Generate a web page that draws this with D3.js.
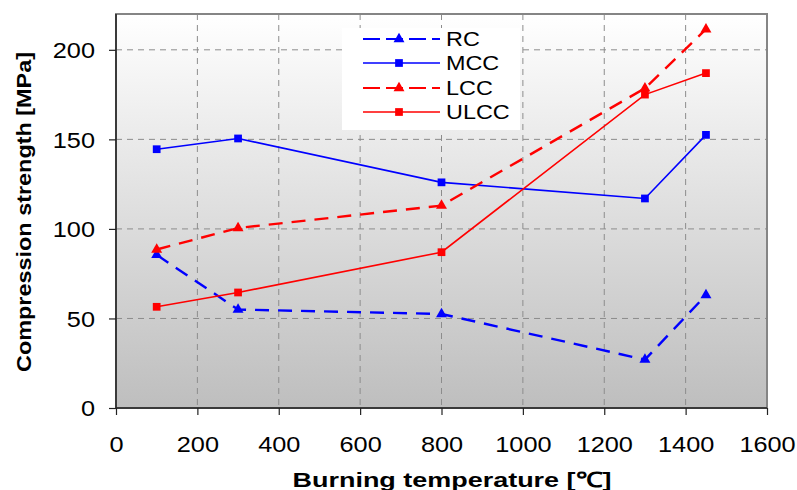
<!DOCTYPE html>
<html><head><meta charset="utf-8">
<script src="https://cdn.jsdelivr.net/npm/d3@7"></script>
<style>body{margin:0;background:#fff;}svg{display:block;font-family:"Liberation Sans",Arial,sans-serif;}</style>
</head><body>
<svg id="c" width="797" height="490"></svg>
<script>
const temps = [100, 300, 800, 1300, 1450];
const rc   = [85.5, 55, 52.5, 27, 63];
const mcc  = [144.5, 150.5, 126, 117, 152.5];
const lcc  = [88.5, 100.5, 113, 178.5, 211.5];
const ulcc = [56.5, 64.5, 87, 175, 187];
const xTicks = [0,200,400,600,800,1000,1200,1400,1600];
const yTicks = [0,50,100,150,200];
const seriesNames = ["RC","MCC","LCC","ULCC"];
const seriesColors = ["#0000ff","#0000ff","#ff0000","#ff0000"];
const seriesDashed = [true,false,true,false];
const seriesMarkers = ["triangle","square","triangle","square"];
const seriesValues = [rc, mcc, lcc, ulcc];

const svg = d3.select("#c");
const L=116, R=767, T=14, B=408;
const x = d3.scaleLinear().domain([0,1600]).range([L,R]);
const y = d3.scaleLinear().domain([0,220]).range([B,T]);

const defs = svg.append("defs");
const g = defs.append("linearGradient").attr("id","bg").attr("x1",0).attr("y1",0).attr("x2",0).attr("y2",1);
g.append("stop").attr("offset","0%").attr("stop-color","#ffffff");
g.append("stop").attr("offset","100%").attr("stop-color","#bebebe");
svg.append("rect").attr("x",L).attr("y",T).attr("width",R-L).attr("height",B-T).attr("fill","url(#bg)");

// grid
svg.append("g").selectAll("line").data(xTicks.slice(1,-1)).join("line")
  .attr("x1",d=>x(d)).attr("x2",d=>x(d)).attr("y1",T).attr("y2",B)
  .attr("stroke","#8c8c8c").attr("stroke-width",1).attr("stroke-dasharray","6,5");
svg.append("g").selectAll("line").data(yTicks.slice(1)).join("line")
  .attr("y1",d=>y(d)).attr("y2",d=>y(d)).attr("x1",L).attr("x2",R)
  .attr("stroke","#8c8c8c").attr("stroke-width",1).attr("stroke-dasharray","6,5");

// frame
svg.append("rect").attr("x",L).attr("y",T).attr("width",R-L).attr("height",B-T)
  .attr("fill","none").attr("stroke","#858585").attr("stroke-width",2);

// axes
const xAxis = d3.axisBottom(x).tickValues(xTicks).tickSize(7).tickFormat(d3.format("d"));
const gx = svg.append("g").attr("transform",`translate(0,${B})`).call(xAxis);
const yAxis = d3.axisLeft(y).tickValues(yTicks).tickSize(7).tickFormat(d3.format("d"));
const gy = svg.append("g").attr("transform",`translate(${L},0)`).call(yAxis);
[gx,gy].forEach(a=>{
  a.select(".domain").attr("stroke","#222").attr("stroke-width",1.5);
  a.selectAll(".tick line").attr("stroke","#222").attr("stroke-width",1.2);
  a.selectAll(".tick text").attr("font-size",22).attr("fill","#000")
    .attr("font-family","'Liberation Sans',Arial,sans-serif");
});
gx.selectAll(".tick text").attr("y",0).attr("dy",0).attr("transform","translate(0,44) scale(1.15,1)");
gy.selectAll(".tick text").attr("x",0).attr("dy","0.36em").attr("transform","translate(-21,0) scale(1.15,1)");
gx.select(".domain").attr("d",`M${L},0H${R}`);
gy.select(".domain").attr("d",`M0,${B}V${T}`);

// titles
svg.append("text").attr("x",452).attr("y",487).attr("text-anchor","middle")
  .attr("font-size",21).attr("font-weight","bold")
  .attr("textLength",319).attr("lengthAdjust","spacingAndGlyphs")
  .text("Burning temperature [℃]");
svg.append("text").attr("transform","translate(31,212) rotate(-90)").attr("text-anchor","middle")
  .attr("font-size",21).attr("font-weight","bold")
  .attr("textLength",320).attr("lengthAdjust","spacingAndGlyphs")
  .text("Compression strength [MPa]");

// lines
const line = d3.line().x((d,i)=>x(temps[i])).y(d=>y(d));
const tri = d3.symbol().type(d3.symbolTriangle).size(52);
const sq = d3.symbol().type(d3.symbolSquare).size(60);
seriesValues.forEach((vals,k)=>{
  svg.append("path").datum(vals).attr("d",line).attr("fill","none")
    .attr("stroke",seriesColors[k])
    .attr("stroke-width",seriesDashed[k]?2.4:1.6)
    .attr("stroke-dasharray",seriesDashed[k]?"14,9":null);
  svg.append("g").selectAll("path").data(vals).join("path")
    .attr("d",seriesMarkers[k]==="triangle"?tri():sq())
    .attr("transform",(d,i)=>`translate(${x(temps[i])},${y(d)})`)
    .attr("fill",seriesColors[k]);
});

// legend
const lg = svg.append("g");
lg.append("rect").attr("x",342).attr("y",28).attr("width",178).attr("height",102).attr("fill","#fff");
const rowsY = [39,63,88,112];
seriesNames.forEach((n,k)=>{
  lg.append("line").attr("x1",363).attr("x2",440).attr("y1",rowsY[k]).attr("y2",rowsY[k])
    .attr("stroke",seriesColors[k]).attr("stroke-width",seriesDashed[k]?2.2:1.6)
    .attr("stroke-dasharray",seriesDashed[k]?"17,6":null);
  lg.append("path").attr("d",seriesMarkers[k]==="triangle"?tri():sq())
    .attr("transform",`translate(399,${rowsY[k]})`).attr("fill",seriesColors[k]);
  lg.append("text").attr("transform",`translate(446,${rowsY[k]+7}) scale(1.2,1)`)
    .attr("font-size",19.5).text(n);
});
</script>
</body></html>
